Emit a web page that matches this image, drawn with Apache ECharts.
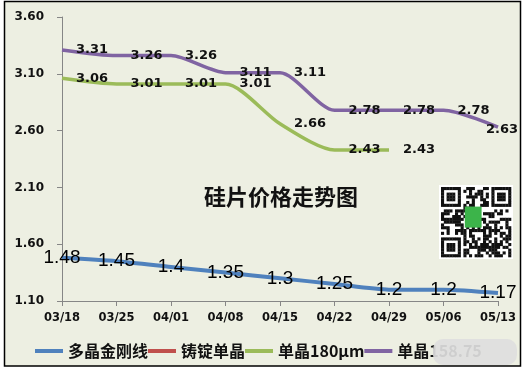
<!DOCTYPE html>
<html>
<head>
<meta charset="utf-8">
<script src="https://cdn.jsdelivr.net/npm/echarts@6/dist/echarts.min.js"></script>
<style>html,body{margin:0;padding:0;background:#fff;}#c{width:525px;height:370px;}</style>
</head>
<body>
<div id="c"></div>
<script>
const categories = ['03/18','03/25','04/01','04/08','04/15','04/22','04/29','05/06','05/13'];
const polyDiamondWire = [1.48, 1.45, 1.4, 1.35, 1.3, 1.25, 1.2, 1.2, 1.17];
const castMono = [null, null, null, null, null, null, null, null, null];
const mono180 = [3.06, 3.01, 3.01, 3.01, 2.66, 2.43, 2.43, null, null];
const monoLarge = [3.31, 3.26, 3.26, 3.11, 3.11, 2.78, 2.78, 2.78, 2.63];
const yTicks = [1.1, 1.6, 2.1, 2.6, 3.1, 3.6];
const seriesNames = ['多晶金刚线', '铸锭单晶', '单晶180μm', '单晶158.75'];

const chart = echarts.init(document.getElementById('c'));

// QR-like decoration
function qrElements(x0, y0, size) {
  const n = 25, m = size / n, els = [];
  els.push({type:'rect', shape:{x:x0-2,y:y0-2,width:size+4,height:size+4}, style:{fill:'#fff'}});
  function finder(r, c) {
    return (r>=0&&r<7&&c>=0&&c<7) ? ((r===0||r===6||c===0||c===6)||(r>=2&&r<=4&&c>=2&&c<=4)) : null;
  }
  for (let r = 0; r < n; r++) {
    for (let c = 0; c < n; c++) {
      let bit;
      let f = finder(r, c);
      if (f === null) f = finder(r, c-(n-7));
      if (f === null) f = finder(r-(n-7), c);
      if (f !== null) bit = f;
      else if ((r<8&&c<8)||(r<8&&c>=n-8)||(r>=n-8&&c<8)) bit = false;
      else { const h = Math.sin(r*12.9898 + c*78.233) * 43758.5453; bit = (h - Math.floor(h)) > 0.5; }
      if (bit) els.push({type:'rect', shape:{x:x0+c*m, y:y0+r*m, width:m+0.3, height:m+0.3}, style:{fill:'#111'}});
    }
  }
  els.push({type:'rect', shape:{x:x0+size*0.34,y:y0+size*0.28,width:size*0.24,height:size*0.3}, style:{fill:'#3cb44a'}});
  return els;
}

const smallLabel = { show: true, position: 'right', distance: 14, fontFamily: 'DejaVu Sans', fontWeight: 'bold', fontSize: 13, color: '#111' };

const option = {
  animation: false,
  textStyle: { fontFamily: 'DejaVu Sans' },
  graphic: [
    { type:'rect', z:-10, shape:{x:4.5,y:1.5,width:516,height:364.5}, style:{fill:'#EDEFE2', stroke:'#000', lineWidth:1.5} },
    { type:'group', z:50, children: qrElements(441, 187, 70) },
    { type:'rect', z:100, shape:{x:433,y:339,width:84,height:26,r:10}, style:{fill:'rgba(222,222,222,0.92)'} }
  ],
  title: {
    text: '硅片价格走势图', left: 199, top: 181,
    textStyle: { fontFamily: 'Noto Sans CJK SC', fontWeight: 'bold', fontSize: 22, color: '#111' }
  },
  legend: {
    data: seriesNames, left: 30, top: 338, itemWidth: 28, itemHeight: 4, itemGap: 0,
    icon: 'rect',
    textStyle: { fontFamily: 'Noto Sans CJK SC', fontWeight: 'bold', fontSize: 16, color: '#111' }
  },
  grid: { left: 62, right: 27, top: 17, bottom: 69, containLabel: false },
  xAxis: {
    type: 'category', data: categories, boundaryGap: false,
    axisLine: { lineStyle: { color: '#868686', width: 1 } },
    axisTick: { show: true, length: 5, lineStyle: { color: '#868686' } },
    axisLabel: { margin: 11, fontFamily: 'DejaVu Sans', fontWeight: 'bold', fontSize: 11.5, color: '#111' },
    splitLine: { show: false }
  },
  yAxis: {
    type: 'value', min: 1.1, max: 3.6,
    axisLine: { show: true, lineStyle: { color: '#868686', width: 1 } },
    axisTick: { show: true, length: 5, customValues: yTicks, lineStyle: { color: '#868686' } },
    axisLabel: { customValues: yTicks, margin: 18, fontFamily: 'DejaVu Sans', fontWeight: 'bold', fontSize: 12, color: '#111',
      formatter: v => v.toFixed(2) },
    splitLine: { show: false }
  },
  series: [
    { name: seriesNames[0], type: 'line', data: polyDiamondWire, symbol: 'circle', symbolSize: 0.01, showSymbol: true, smooth: 0.25,
      lineStyle: { color: '#4F81BD', width: 4 }, itemStyle: { color: '#4F81BD' },
      label: { show: true, position: 'inside', fontFamily: 'Liberation Sans', fontSize: 19, color: '#000' } },
    { name: seriesNames[1], type: 'line', data: castMono, symbol: 'none',
      lineStyle: { color: '#C0504D', width: 4 }, itemStyle: { color: '#C0504D' } },
    { name: seriesNames[2], type: 'line', data: mono180, symbol: 'circle', symbolSize: 0.01, showSymbol: true, smooth: 0.25,
      lineStyle: { color: '#9BBB59', width: 3.5 }, itemStyle: { color: '#9BBB59' },
      label: smallLabel },
    { name: seriesNames[3], type: 'line', data: monoLarge.map((v, i) => i === monoLarge.length - 1 ? { value: v, label: { position: 'inside', offset: [4, 2] } } : v),
      symbol: 'circle', symbolSize: 0.01, showSymbol: true, smooth: 0.25,
      lineStyle: { color: '#8064A2', width: 3.5 }, itemStyle: { color: '#8064A2' },
      label: smallLabel }
  ]
};
chart.setOption(option);
</script>
</body>
</html>
